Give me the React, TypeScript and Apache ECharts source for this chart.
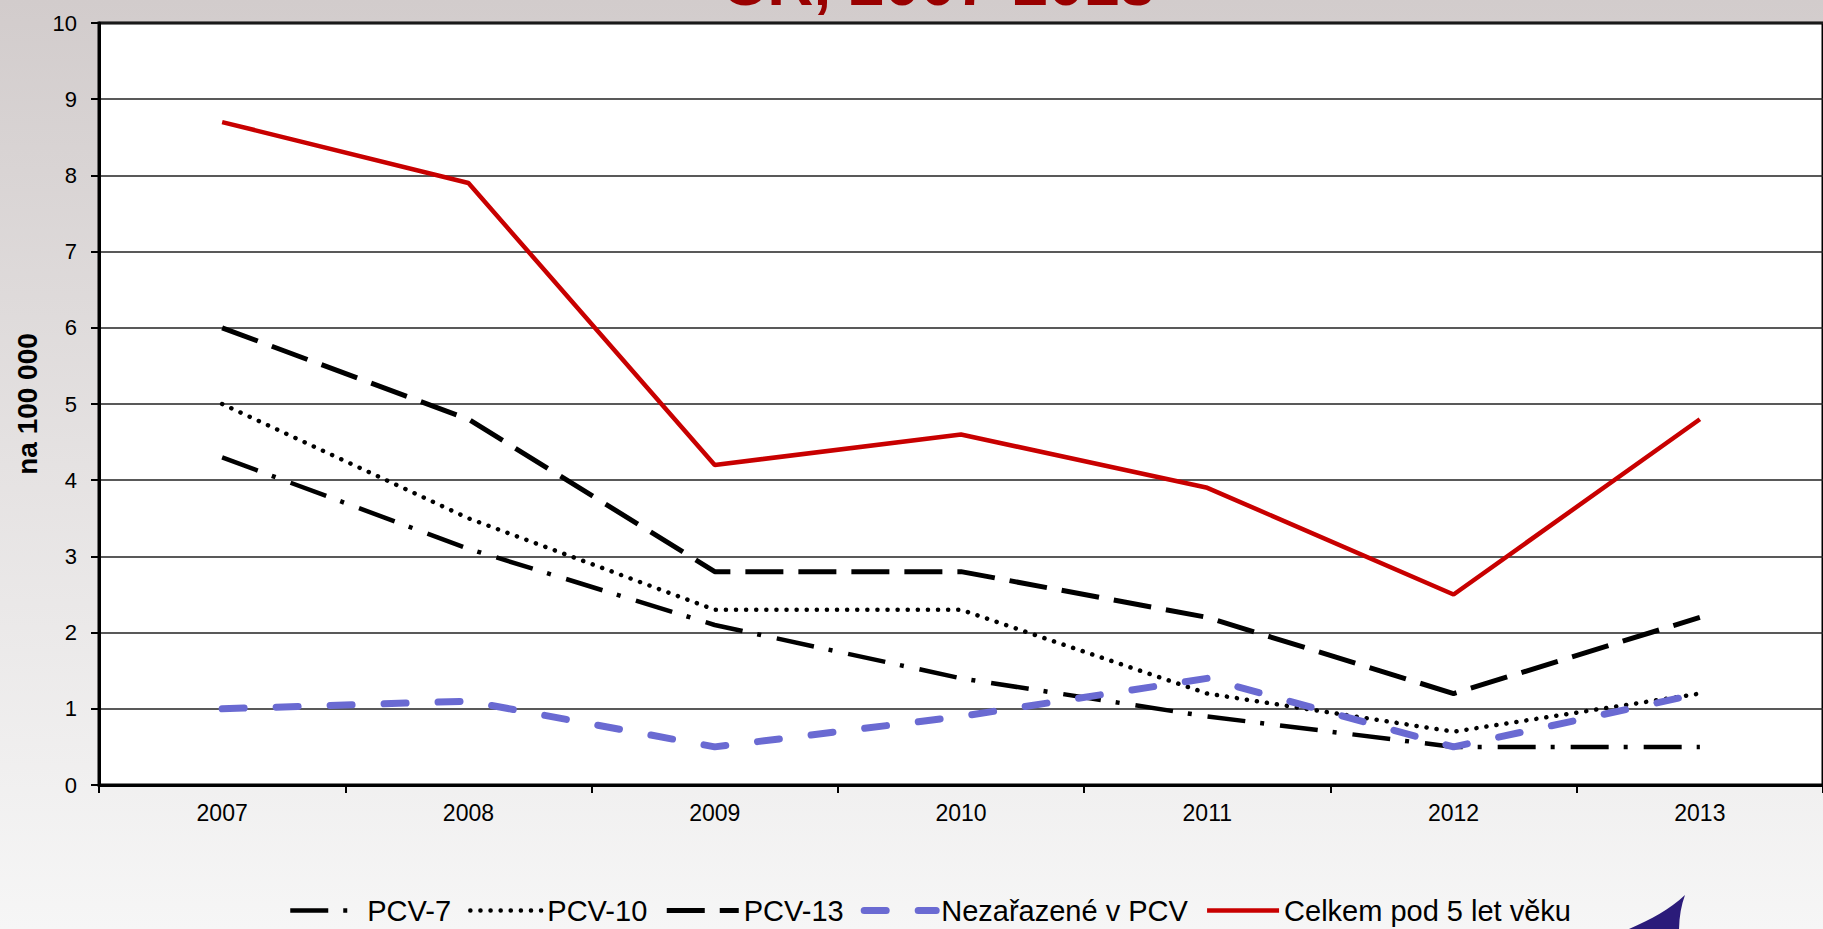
import React, { useEffect, useRef } from 'react';
import * as echarts from 'echarts';

const years = ['2007', '2008', '2009', '2010', '2011', '2012', '2013'];
const pcv7 = [4.3, 3.1, 2.1, 1.4, 0.9, 0.5, 0.5];
const pcv10 = [5.0, 3.5, 2.3, 2.3, 1.2, 0.7, 1.2];
const pcv13 = [6.0, 4.8, 2.8, 2.8, 2.2, 1.2, 2.2];
const nezarazene = [1.0, 1.1, 0.5, 0.9, 1.4, 0.5, 1.2];
const celkem = [8.7, 7.9, 4.2, 4.6, 3.9, 2.5, 4.8];
const seriesNames = ['PCV-7', 'PCV-10', 'PCV-13', 'Nezařazené v PCV', 'Celkem pod 5 let věku'];
const titleText = 'ČR, 2007-2013';
const yAxisName = 'na 100 000';

const FONT = '"Liberation Sans", Arial, sans-serif';

const logoPath = 'M 1685 895 C 1668 911 1648 921 1622 932 L 1679 932 C 1679 918 1681 906 1685 895 Z';
echarts.graphic.registerShape('logo', echarts.graphic.extendPath(logoPath, {}));

export default function App() {
  const ref = useRef<HTMLDivElement>(null);
  useEffect(() => {
    if (!ref.current) return;
    const chart = echarts.init(ref.current, null, { renderer: 'svg' });
    const mk = (name: string, data: number[], color: string, width: number, type: any, cap: any = 'butt') => ({
      name,
      type: 'line',
      data,
      symbol: 'none',
      smooth: false,
      lineStyle: { color, width, type, cap },
      itemStyle: { color },
    });
    chart.setOption({
      animation: false,
      backgroundColor: new echarts.graphic.LinearGradient(0, 0, 0, 1, [
        { offset: 0, color: '#d2cccc' },
        { offset: 0.5, color: '#e5e2e2' },
        { offset: 1, color: '#f6f6f6' },
      ]),
      textStyle: { fontFamily: FONT },
      grid: {
        left: 99,
        right: -8,
        top: 23,
        bottom: 144,
        show: true,
        backgroundColor: '#ffffff',
        borderColor: '#000',
        borderWidth: 3,
      },
      legend: {
        left: 288,
        top: 896,
        padding: 0,
        itemWidth: 72,
        itemHeight: 14,
        itemGap: 17,
        itemStyle: { color: 'rgba(0,0,0,0)', borderWidth: 0, opacity: 0 },
        lineStyle: { width: 'inherit' },
        textStyle: { fontSize: 29, color: '#000', fontFamily: FONT },
        data: seriesNames,
      },
      xAxis: {
        type: 'category',
        data: years,
        boundaryGap: true,
        axisLine: { lineStyle: { color: '#000', width: 3 } },
        axisTick: { show: true, inside: false, length: 8, lineStyle: { color: '#000', width: 2 } },
        axisLabel: { fontSize: 23, color: '#000', margin: 16, fontFamily: FONT },
        splitLine: { show: false },
      },
      yAxis: {
        type: 'value',
        min: 0,
        max: 10,
        interval: 1,
        name: yAxisName,
        nameLocation: 'middle',
        nameRotate: 90,
        nameGap: 57,
        nameTextStyle: { fontSize: 28, fontWeight: 'bold', color: '#000', fontFamily: FONT },
        axisLine: { show: true, lineStyle: { color: '#000', width: 3 } },
        axisTick: { show: true, inside: false, length: 8, lineStyle: { color: '#000', width: 2 } },
        axisLabel: { fontSize: 22, color: '#000', margin: 22, fontFamily: FONT },
        splitLine: { show: true, lineStyle: { color: '#222222', width: 1.5 } },
      },
      series: [
        mk(seriesNames[0], pcv7, '#000000', 4.5, [38, 15, 4, 16]),
        mk(seriesNames[1], pcv10, '#000000', 4.5, [0.1, 10], 'round'),
        mk(seriesNames[2], pcv13, '#000000', 5, [38, 15]),
        mk(seriesNames[3], nezarazene, '#6a6ad2', 7, [22, 32], 'round'),
        mk(seriesNames[4], celkem, '#c80000', 4.5, 'solid'),
      ],
      graphic: [
        {
          type: 'text',
          x: 938,
          y: -17,
          style: {
            text: titleText,
            fontSize: 64,
            fontWeight: 'bold',
            fontFamily: FONT,
            fill: '#990000',
            textAlign: 'center',
            textVerticalAlign: 'middle',
          },
          z: 10,
        },
        {
          type: 'logo',
          x: 0,
          y: 0,
          scaleX: 1,
          scaleY: 1,
          style: { fill: '#2b1b7a' },
          z: 10,
        },
      ],
    });
    return () => chart.dispose();
  }, []);
  return (
    <div style={{ position: 'fixed', left: 0, top: 0, width: 1823, height: 929, overflow: 'hidden' }}>
      <div ref={ref} style={{ width: 1823, height: 929 }} />
    </div>
  );
}
